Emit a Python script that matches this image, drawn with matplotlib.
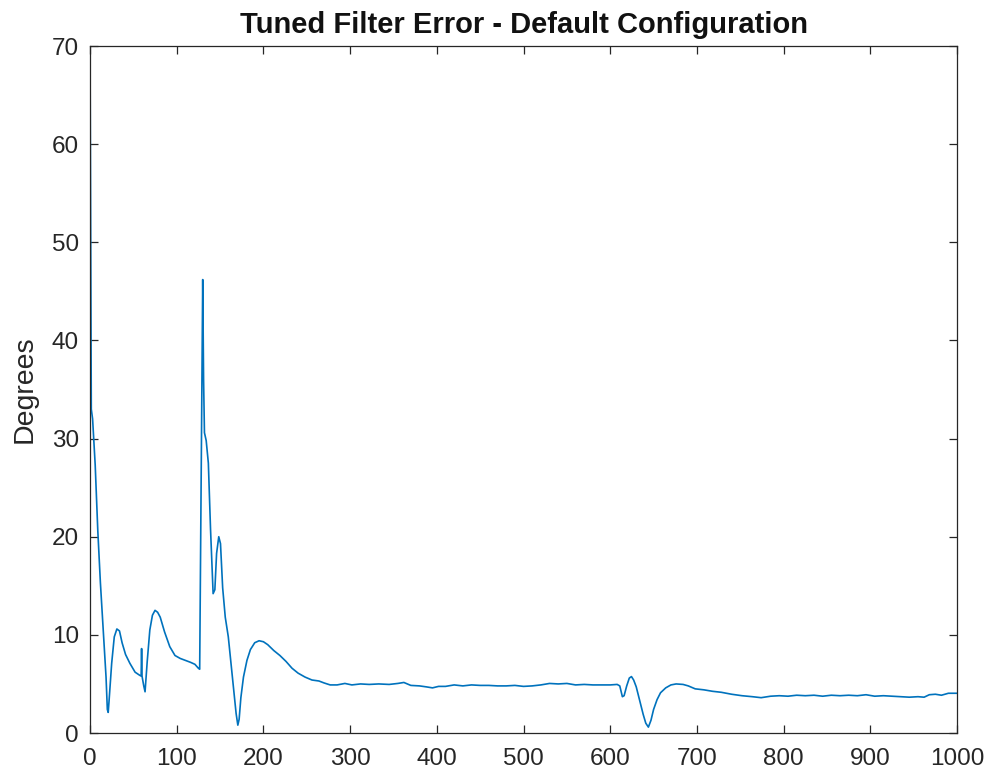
import numpy as np
import matplotlib
matplotlib.use("Agg")
import matplotlib.pyplot as plt

plt.rcParams['font.family'] = ['Liberation Sans', 'DejaVu Sans']

# error trace (sample index, degrees)
sample = [0, 1.5, 3, 6, 9, 12, 15.5, 18.5, 20, 21, 22, 25, 28, 31, 34, 37, 41, 46,
          52, 57, 59, 59.5, 60, 62, 63.5, 66, 69, 72, 75, 78, 81, 86, 92, 98, 104,
          110, 116, 121, 125, 126.5, 130, 131, 132, 134, 136.5, 139, 142, 144, 146,
          148.5, 150.5, 153, 156, 159.5, 163, 166, 168.5, 170.5, 172, 174, 177, 181,
          185, 190, 195, 200, 205, 212, 219, 226, 233, 240, 248, 256, 264, 270, 277,
          285, 294, 302, 312, 322, 333, 345, 355, 362, 370, 380, 388, 395, 402, 410,
          420, 430, 440, 450, 460, 470, 480, 490, 500, 510, 520, 530, 540, 550, 560,
          570, 580, 590, 600, 608, 611, 614, 616, 619, 622, 624.5, 627, 630, 634, 638,
          641, 644, 647, 650, 654, 658, 664, 670, 676, 684, 690, 698, 708, 718, 728,
          740, 752, 764, 774, 785, 795, 805, 815, 825, 835, 845, 855, 865, 875, 885,
          895, 905, 915, 925, 935, 945, 955, 962, 968, 975, 982, 990, 1000]
error_deg = [70.5, 33.0, 32.0, 27.3, 20.6, 15.3, 10.1, 5.7, 2.4, 2.1, 3.3, 7.1, 9.8,
             10.6, 10.4, 9.2, 8.0, 7.1, 6.2, 5.9, 5.8, 8.6, 5.8, 4.8, 4.2, 7.3, 10.5,
             12.0, 12.5, 12.3, 11.8, 10.3, 8.8, 7.9, 7.6, 7.4, 7.2, 7.0, 6.6, 6.5,
             46.2, 36.0, 30.6, 29.8, 27.5, 20.8, 14.2, 14.6, 18.3, 20.0, 19.3, 14.8,
             11.8, 9.8, 6.8, 4.3, 2.0, 0.8, 1.4, 3.6, 5.7, 7.4, 8.5, 9.2, 9.4, 9.3,
             9.0, 8.4, 7.9, 7.3, 6.6, 6.1, 5.7, 5.4, 5.3, 5.1, 4.9, 4.9, 5.05, 4.9,
             5.0, 4.95, 5.0, 4.95, 5.05, 5.15, 4.85, 4.8, 4.7, 4.6, 4.75, 4.75, 4.9,
             4.8, 4.9, 4.85, 4.85, 4.8, 4.8, 4.85, 4.75, 4.8, 4.9, 5.05, 5.0, 5.05,
             4.9, 4.95, 4.9, 4.9, 4.9, 4.95, 4.8, 3.7, 3.8, 4.8, 5.6, 5.75, 5.4, 4.7,
             3.3, 1.9, 1.0, 0.6, 1.3, 2.4, 3.4, 4.1, 4.6, 4.9, 5.0, 4.95, 4.8, 4.5,
             4.4, 4.25, 4.15, 3.95, 3.8, 3.7, 3.6, 3.75, 3.8, 3.75, 3.85, 3.8, 3.85,
             3.75, 3.85, 3.8, 3.85, 3.8, 3.9, 3.75, 3.8, 3.75, 3.7, 3.65, 3.7, 3.65,
             3.9, 3.95, 3.85, 4.05, 4.05]

x_ticks = np.arange(0, 1001, 100)
y_ticks = np.arange(0, 71, 10)

fig = plt.figure(figsize=(9.89, 7.76), dpi=100)
ax = fig.add_axes([0.091, 0.0554, 0.8767, 0.8853])

ax.plot(sample, error_deg, color='#0072BD', lw=1.2)

ax.set_xlim(0, 1000)
ax.set_ylim(0, 70)
ax.set_xticks(x_ticks)
ax.set_yticks(y_ticks)
ax.tick_params(direction='in', length=6, width=0.9, colors='#262626',
               labelsize=17.5, top=True, right=True)
ax.tick_params(axis='x', pad=11)
ax.tick_params(axis='y', pad=8)
for s in ax.spines.values():
    s.set_color('#262626')
    s.set_linewidth(0.9)

ax.set_title('Tuned Filter Error - Default Configuration', fontsize=21,
             fontweight='bold', pad=9.5, color='#111111')
ax.set_ylabel('Degrees', fontsize=20.5, color='#262626', labelpad=10)

fig.savefig('out.png', dpi=100)
